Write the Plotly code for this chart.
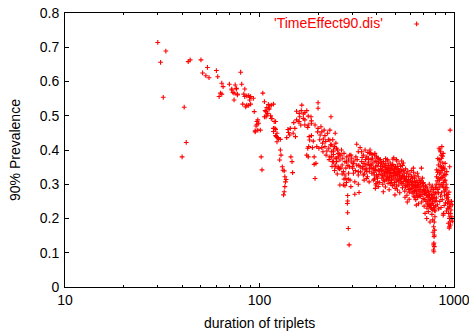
import plotly.graph_objects as go

# (duration, prevalence) readings, grouped by region of the chart
sparse_pts = [
    (30, .714), (33, .689), (31, .656), (32, .554), (41, .525), (42, .422), (40, .380),
    (43, .658), (44, .663), (50, .663), (54, .641), (51, .625), (53, .617), (55, .611),
    (60, .632), (61, .614), (64, .595), (65, .585), (63, .566), (64, .563), (62, .556),
    (70, .592), (75, .590), (76, .578), (72, .578), (73, .568), (77, .563), (74, .546),
    (72, .575), (76, .580), (74, .566), (77, .561),
    (80, .627), (81, .592), (84, .578), (83, .563), (86, .558), (89, .554), (93, .551),
    (82, .534), (85, .526), (88, .530), (90, .534), (94, .512),
    (84, .556), (88, .559), (90, .556), (89, .546), (86, .531),
    (104, .566), (106, .541), (109, .524), (107, .515), (111, .533), (113, .529), (112, .519),
    (109, .502), (115, .492), (108, .497),
    (97, .483), (99, .478), (96, .470), (98, .458), (95, .456), (98, .488), (97, .475),
    (101, .458), (95, .453),
    (119, .483), (118, .463), (121, .460), (123, .449), (122, .439), (125, .433),
    (120, .463), (118, .454), (121, .442), (124, .436), (128, .431), (123, .424),
    (121, .483), (116, .492), (114, .500), (110, .507), (106, .497), (108, .512),
    (112, .522), (115, .531), (118, .534),
    (102, .380), (103, .342),
]

early_pts = [
    (128, .400), (129, .385), (127, .371), (131, .351), (132, .341), (134, .339),
    (135, .322), (137, .314), (136, .307), (135, .293), (134, .278), (133, .269),
    (145, .380), (147, .366), (148, .334),
    (140, .460), (144, .463), (143, .444), (138, .436), (152, .463), (153, .439),
    (149, .449), (141, .451),
    (150, .480), (155, .488), (160, .483),
]

mid_pts = [
    (155, .513), (160, .507), (164, .515), (168, .505), (171, .509), (175, .515),
    (178, .499), (165, .531),
    (171, .473), (177, .466), (180, .439), (179, .410), (175, .385),
    (161, .497), (168, .492), (158, .483), (163, .473), (171, .488),
    (184, .497), (185, .485), (178, .473), (185, .478),
    (193, .473), (200, .463), (207, .468), (215, .458), (209, .453), (199, .453),
    (205, .444), (217, .442), (224, .449), (213, .432),
    (230, .458), (233, .497), (245, .449),
    (185, .442), (181, .429), (189, .426), (177, .405), (187, .407),
    (197, .410), (202, .405), (209, .407), (217, .410), (227, .405), (222, .397),
    (234, .395), (240, .400),
    (178, .380), (191, .380), (195, .361), (191, .358), (193, .317),
    (230, .380), (240, .387), (245, .376), (237, .366), (249, .366), (254, .380),
    (254, .347), (245, .351), (262, .347),
    (259, .298), (275, .296),
    (284, .267), (284, .251), (283, .244), (284, .217), (286, .171), (289, .123),
    (200, .538), (200, .522),
    (230, .429), (235, .415), (249, .405), (240, .395), (254, .390), (235, .380),
    (249, .376), (240, .366), (259, .371), (245, .356), (254, .351),
    (262, .385), (268, .376), (275, .366), (281, .380), (287, .371), (266, .356),
    (278, .347), (290, .351), (270, .337), (287, .332), (275, .327), (278, .317),
    (270, .298), (292, .312), (295, .293),
    (204, .430), (211, .420), (219, .425), (226, .430), (232, .415), (238, .430),
    (243, .410), (247, .420), (252, .400), (257, .388), (264, .400), (272, .390),
    (280, .365), (285, .355), (291, .385), (296, .365), (212, .395), (220, .385),
    (228, .372), (236, .352), (243, .340), (251, .330), (258, .345), (266, .330),
    (272, .315), (280, .305), (286, .315),
]

band_300_420 = [
    (298, .376), (304, .361), (316, .356), (322, .337), (304, .332), (322, .327),
    (309, .307), (322, .300), (309, .271), (325, .276), (295, .385), (313, .380),
    (301, .347), (329, .351),
    (316, .417), (329, .407), (322, .395), (335, .395), (349, .400), (361, .393),
    (370, .400), (378, .387), (392, .390), (400, .380), (407, .376),
    (342, .385), (356, .380), (363, .376), (368, .390), (335, .366), (345, .361),
    (352, .356), (361, .358), (338, .347), (349, .342), (356, .337), (368, .347),
    (342, .327), (356, .317), (366, .307), (345, .312),
    (373, .390), (381, .376), (391, .385), (398, .366), (406, .376), (416, .371),
    (376, .356), (385, .347), (395, .351), (408, .342), (378, .332), (389, .327),
    (401, .322), (411, .328), (385, .312), (398, .302), (408, .293), (394, .288),
    (392, .342), (400, .327), (396, .298), (405, .307),
    (300, .352), (306, .368), (311, .340), (318, .372), (324, .355), (331, .336),
    (337, .378), (340, .352), (346, .330), (351, .372), (354, .345), (359, .322),
    (364, .365), (367, .338), (371, .355), (375, .372), (379, .345), (383, .362),
    (387, .335), (390, .315), (393, .368), (397, .340), (402, .355), (404, .318),
    (409, .362), (413, .338), (415, .305), (419, .352),
]

band_420_600 = [
    (418, .372), (420, .345), (422, .330), (424, .362), (426, .318), (428, .351),
    (430, .300), (432, .338), (434, .366), (436, .325), (438, .356), (440, .309),
    (442, .342), (444, .292), (446, .360), (448, .334), (450, .315), (452, .348),
    (454, .372), (456, .327), (458, .303), (460, .355), (462, .339), (464, .284),
    (466, .320), (468, .346), (445, .375), (433, .278), (457, .368), (463, .312),
    (470, .362), (472, .331), (474, .305), (476, .350), (478, .322), (480, .340),
    (482, .296), (484, .358), (486, .315), (488, .334), (490, .377), (492, .300),
    (494, .345), (496, .326), (498, .288), (500, .352), (502, .318), (504, .337),
    (506, .372), (508, .309), (510, .328), (512, .283), (514, .346), (516, .313),
    (518, .335), (520, .298), (522, .360), (524, .322), (526, .275), (497, .269),
    (485, .373), (511, .352), (508, .368), (538, .368),
    (528, .330), (531, .352), (534, .306), (537, .318), (540, .342), (543, .290),
    (546, .325), (549, .362), (552, .301), (555, .333), (558, .280), (561, .315),
    (564, .345), (567, .296), (570, .322), (573, .268), (576, .307), (579, .338),
    (582, .285), (585, .314), (588, .256), (591, .298), (594, .329), (544, .355),
    (560, .262), (575, .248), (553, .323), (566, .310), (580, .300), (589, .277),
    (421, .362), (425, .340), (429, .325), (431, .352), (435, .312), (439, .332),
    (443, .350), (447, .322), (451, .338), (455, .345), (459, .318), (465, .335),
    (469, .302), (473, .345), (477, .312), (481, .355), (487, .325), (491, .342),
    (495, .305), (499, .332), (503, .348), (507, .295), (513, .325), (517, .342),
    (521, .310), (525, .336), (530, .315), (535, .338), (539, .302), (542, .325),
    (548, .308), (551, .340), (557, .318), (563, .292), (569, .312), (572, .332),
    (578, .295), (583, .322), (587, .305), (593, .285),
]

band_600_810 = [
    (597, .312), (600, .286), (603, .340), (606, .300), (609, .274), (612, .318),
    (615, .292), (618, .347), (621, .265), (624, .305), (627, .280), (630, .325),
    (633, .296), (636, .255), (639, .310), (642, .272), (645, .290), (648, .332),
    (651, .262), (654, .300), (657, .243), (660, .283), (663, .312), (666, .268),
    (620, .335), (640, .239), (655, .322), (610, .298), (628, .262), (647, .305),
    (670, .292), (674, .265), (678, .310), (682, .248), (686, .280), (690, .302),
    (694, .258), (698, .285), (702, .236), (706, .272), (710, .215), (714, .295),
    (718, .250), (722, .268), (726, .230), (730, .286), (734, .245), (738, .220),
    (742, .262), (746, .300), (750, .238), (753, .190), (724, .200), (680, .347),
    (688, .318), (700, .295), (715, .276), (735, .268), (745, .252), (760, .280),
    (756, .255), (762, .232), (766, .268), (770, .244), (774, .295), (778, .226),
    (782, .258), (786, .238), (790, .275), (794, .224), (798, .250), (802, .290),
    (806, .236), (777, .196), (786, .176), (792, .190), (792, .152), (795, .166),
    (790, .147), (788, .128), (786, .123), (792, .118), (784, .108), (788, .103),
    (780, .160), (798, .205), (770, .212),
    (602, .305), (605, .322), (608, .288), (614, .308), (617, .278), (623, .295),
    (626, .318), (632, .282), (635, .305), (638, .290), (644, .268), (650, .295),
    (653, .278), (659, .300), (662, .265), (668, .285), (672, .305), (676, .275),
    (684, .295), (692, .270), (696, .305), (704, .282), (708, .255), (712, .280),
    (720, .292), (728, .262), (732, .240), (740, .278), (744, .235), (748, .270),
    (752, .255), (758, .240), (764, .290), (768, .228), (772, .262), (776, .248),
    (780, .270), (784, .285), (789, .232), (796, .262), (800, .222), (804, .275),
    (808, .252),
]

band_810_1000 = [
    (815, .342), (820, .310), (825, .285), (831, .356), (836, .300), (840, .372),
    (844, .330), (847, .400), (850, .352), (853, .265), (856, .318), (860, .385),
    (864, .376), (868, .340), (872, .295), (876, .362), (880, .390), (884, .215),
    (888, .325), (892, .280), (896, .345), (900, .361), (900, .312), (907, .283),
    (912, .300), (918, .337), (918, .259), (812, .260), (822, .240), (834, .228),
    (845, .250), (858, .232), (870, .255), (880, .210), (890, .238), (905, .246),
    (915, .222), (826, .375), (838, .405), (852, .395), (866, .410), (874, .382),
    (846, .292), (862, .275), (882, .305), (894, .268), (818, .275), (810, .300),
    (922, .270), (926, .245), (930, .262), (935, .254), (940, .230), (947, .234),
    (938, .215), (947, .200), (935, .186), (947, .176), (955, .190), (960, .181),
    (952, .205), (965, .225), (970, .250), (942, .277), (950, .351), (955, .458),
    (975, .205), (980, .240), (985, .192), (945, .172),
    (813, .322), (817, .290), (823, .335), (828, .318), (833, .275), (837, .340),
    (842, .312), (849, .365), (855, .335), (859, .300), (863, .350), (867, .320),
    (871, .345), (878, .320), (883, .350), (886, .290), (891, .330), (897, .310),
    (903, .290), (909, .328), (914, .270), (920, .290), (928, .230), (933, .270),
    (943, .245), (958, .215), (962, .240), (968, .200),
]

x_tick_vals = [10, 100, 1000]
x_tick_text = ["10", "100", "1000"]
x_minor_vals = [20, 30, 40, 50, 60, 70, 80, 90, 200, 300, 400, 500, 600, 700, 800, 900]
legend_label = "'TimeEffect90.dis'"

all_pts = sparse_pts + early_pts + mid_pts + band_300_420 + band_420_600 + band_600_810 + band_810_1000
duration = [p[0] for p in all_pts]
prevalence = [p[1] for p in all_pts]

marker_style = dict(symbol="cross-thin", size=3.4, color="red", line=dict(width=1.1, color="red"))

fig = go.Figure()
fig.add_trace(go.Scatter(x=duration, y=prevalence, mode="markers", marker=marker_style,
                         showlegend=False, hoverinfo="skip"))
# legend sample marker (gnuplot style: text then sample)
fig.add_trace(go.Scatter(x=[0.904], y=[0.96], xaxis="x2", yaxis="y2", mode="markers",
                         marker=marker_style, showlegend=False, hoverinfo="skip"))

axis_common = dict(showline=True, linecolor="black", linewidth=1, mirror="ticks",
                   ticks="inside", ticklen=4, tickcolor="black", tickwidth=1,
                   showgrid=False, zeroline=False, automargin=False)

fig.update_layout(
    width=469, height=335,
    margin=dict(l=65, r=15, t=13, b=48, autoexpand=False),
    paper_bgcolor="white", plot_bgcolor="white",
    font=dict(family="Liberation Sans, Arial, sans-serif", size=14, color="black"),
    xaxis=dict(type="log", range=[1, 3.00001], tickvals=x_tick_vals, ticktext=x_tick_text,
               ticklabeloverflow="allow",
               minor=dict(ticks="inside", ticklen=2, tickcolor="black", tickvals=x_minor_vals,
                          showgrid=False),
               **axis_common),
    yaxis=dict(range=[0, 0.8], tick0=0, dtick=0.1, ticklabelstandoff=2, **axis_common),
    xaxis2=dict(overlaying="x", range=[0, 1], visible=False),
    yaxis2=dict(overlaying="y", range=[0, 1], visible=False),
    annotations=[
        dict(text=legend_label, xref="paper", yref="paper", x=0.8226, y=0.9635,
             xanchor="right", yanchor="middle", showarrow=False,
             font=dict(color="red", size=14)),
        dict(text="duration of triplets", xref="paper", yref="paper", x=0.5, y=-0.131,
             xanchor="center", yanchor="middle", showarrow=False),
        dict(text="90% Prevalence", xref="paper", yref="paper", x=-0.1285, y=0.5,
             xanchor="center", yanchor="middle", textangle=-90, showarrow=False),
    ],
)

fig.write_html("out.html")
